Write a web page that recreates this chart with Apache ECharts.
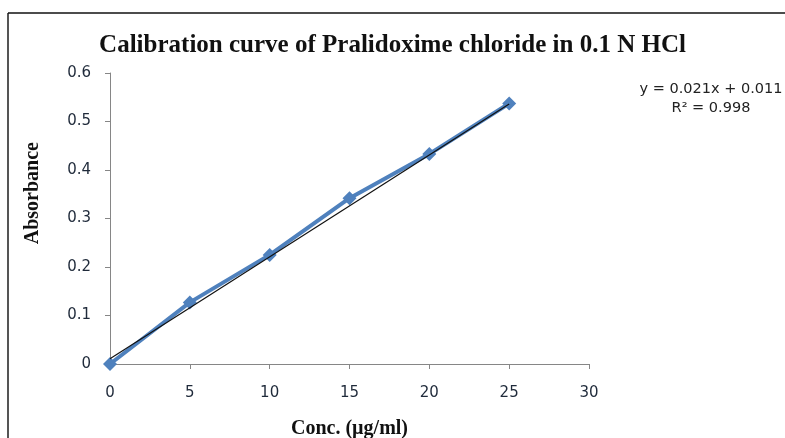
<!DOCTYPE html>
<html>
<head>
<meta charset="utf-8">
<script src="https://cdn.jsdelivr.net/npm/echarts@6/dist/echarts.min.js"></script>
<style>
  html, body { margin: 0; padding: 0; background: #fff; }
  #chart { width: 785px; height: 438px; }
</style>
</head>
<body>
<div id="chart"></div>
<script>
// concentration (µg/ml) and absorbance
const conc = [0, 5, 10, 15, 20, 25]
const absorbance = [0, 0.127, 0.225, 0.342, 0.433, 0.537]
// linear trendline y = 0.021x + 0.011, drawn over the data range
const trendX = [0, 25]
const trendY = [0.011, 0.536]
const yTicks = [0, 0.1, 0.2, 0.3, 0.4, 0.5, 0.6]
const xTicks = [0, 5, 10, 15, 20, 25, 30]

const chart = echarts.init(document.getElementById('chart'))

const labelFont = { color: '#1f2a3a', fontSize: 15, fontFamily: 'DejaVu Sans' }

const option = {
  animation: false,
  backgroundColor: '#fff',
  title: {
    text: 'Calibration curve of Pralidoxime chloride in 0.1 N HCl',
    left: 'center',
    top: 28,
    textStyle: { fontFamily: 'Liberation Serif', fontWeight: 'bold', fontSize: 25, color: '#111' },
  },
  // fixed plot box, no auto shrinking for labels
  grid: { left: 110, right: 196, top: 73, bottom: 74, outerBoundsMode: 'none' },
  xAxis: {
    type: 'value',
    min: xTicks[0],
    max: xTicks[xTicks.length - 1],
    interval: 5,
    name: 'Conc. (µg/ml)',
    nameLocation: 'middle',
    nameGap: 55,
    nameTextStyle: { fontFamily: 'Liberation Serif', fontWeight: 'bold', fontSize: 20, color: '#111' },
    axisLine: { lineStyle: { color: '#868686' } },
    axisTick: { show: true, length: 5, lineStyle: { color: '#868686' } },
    axisLabel: { ...labelFont, margin: 22 },
    splitLine: { show: false },
  },
  yAxis: {
    type: 'value',
    min: yTicks[0],
    max: yTicks[yTicks.length - 1],
    interval: 0.1,
    axisLine: { show: true, lineStyle: { color: '#868686' } },
    axisTick: { show: true, length: 5, lineStyle: { color: '#868686' } },
    axisLabel: { ...labelFont, margin: 19 },
    splitLine: { show: false },
  },
  graphic: [
    // outer frame (left + top edges only, like the source)
    { type: 'line', shape: { x1: 8, y1: 13, x2: 8, y2: 438 }, style: { stroke: '#555', lineWidth: 2 } },
    { type: 'line', shape: { x1: 8, y1: 13, x2: 785, y2: 13 }, style: { stroke: '#111', lineWidth: 1.5 } },
    {
      type: 'text', left: 23, top: 142, rotation: Math.PI / 2,
      style: { text: 'Absorbance', fontFamily: 'Liberation Serif', fontWeight: 'bold', fontSize: 20, fill: '#111' },
    },
    {
      type: 'text', x: 711, y: 82,
      style: { text: 'y = 0.021x + 0.011', textAlign: 'center', fontFamily: 'DejaVu Sans', fontSize: 14.5, fill: '#222' },
    },
    {
      type: 'text', x: 711, y: 101,
      style: { text: 'R² = 0.998', textAlign: 'center', fontFamily: 'DejaVu Sans', fontSize: 14.5, fill: '#222' },
    },
  ],
  series: [
    {
      name: 'Absorbance',
      type: 'line',
      data: conc.map((c, i) => [c, absorbance[i]]),
      symbol: 'diamond',
      symbolSize: 14,
      itemStyle: { color: '#4F81BD' },
      lineStyle: { color: '#4F81BD', width: 4 },
      z: 2,
    },
    {
      name: 'Trend',
      type: 'line',
      data: trendX.map((x, i) => [x, trendY[i]]),
      symbol: 'none',
      lineStyle: { color: '#111', width: 1.2 },
      z: 3,
    },
  ],
}

chart.setOption(option)
</script>
</body>
</html>
